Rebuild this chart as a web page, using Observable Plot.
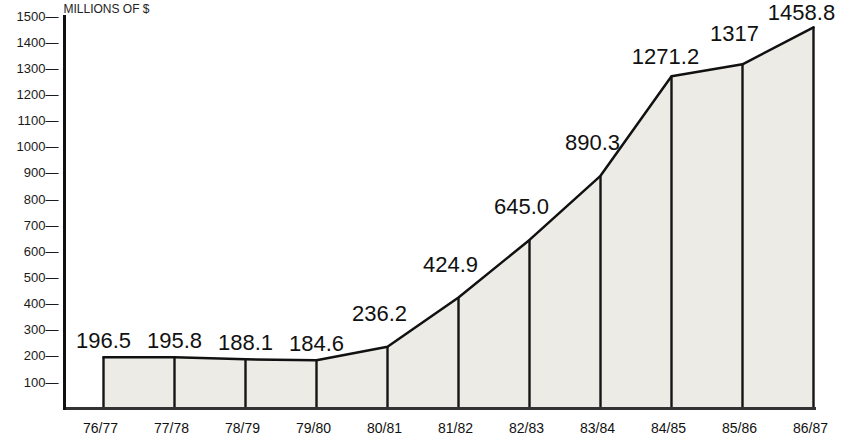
<!DOCTYPE html>
<html>
<head>
<meta charset="utf-8">
<script src="https://cdn.jsdelivr.net/npm/d3@7"></script>
<script src="https://cdn.jsdelivr.net/npm/@observablehq/plot@0.6"></script>
<style>
  html, body { margin: 0; padding: 0; background: #fff; overflow: hidden; }
  #chart svg { display: block; }
</style>
</head>
<body>
<div id="chart"></div>
<script>
const years = ["76/77", "77/78", "78/79", "79/80", "80/81", "81/82", "82/83", "83/84", "84/85", "85/86", "86/87"];
const values = [196.5, 195.8, 188.1, 184.6, 236.2, 424.9, 645.0, 890.3, 1271.2, 1317, 1458.8];
const valueLabels = ["196.5", "195.8", "188.1", "184.6", "236.2", "424.9", "645.0", "890.3", "1271.2", "1317", "1458.8"];
const yTicks = [100, 200, 300, 400, 500, 600, 700, 800, 900, 1000, 1100, 1200, 1300, 1400, 1500];
const yTitle = "MILLIONS OF $";

const data = years.map((year, i) => ({year, value: values[i], label: valueLabels[i], i}));

const font = "'Liberation Sans', Arial, Helvetica, sans-serif";
const labelStyle = {x: "year", y: "value", text: "label", fontSize: 22, fill: "#111", lineAnchor: "middle", textAnchor: "middle"};

const chart = Plot.plot({
  width: 852,
  height: 436,
  marginLeft: 64,
  marginRight: 36,
  marginTop: 16,
  marginBottom: 28,
  style: {fontFamily: font, background: "#fff", overflow: "visible"},
  x: {type: "point", domain: years, padding: 0, insetLeft: 36, label: null},
  y: {domain: [0, 1500], label: null},
  marks: [
    Plot.areaY(data, {x: "year", y: "value", fill: "#ecebe6"}),
    Plot.ruleX(data, {x: "year", y1: 0, y2: "value", stroke: "#151515", strokeWidth: 2.4}),
    Plot.lineY(data, {x: "year", y: "value", stroke: "#111", strokeWidth: 2.5}),
    Plot.ruleY([0], {stroke: "#333", strokeWidth: 3}),
    Plot.frame({anchor: "left", stroke: "#111", strokeWidth: 3}),
    Plot.axisY({ticks: yTicks, tickFormat: d => d + "—", tickSize: 0, tickPadding: 6, fontSize: 13, fill: "#1a1a1a"}),
    Plot.axisX({tickSize: 0, tickPadding: 15, dx: -3, fontSize: 14, fill: "#111"}),
    Plot.text(data.filter(d => d.i <= 3), {...labelStyle, dx: 0, dy: -16}),
    Plot.text(data.filter(d => d.i >= 4 && d.i <= 7), {...labelStyle, dx: -8, dy: -33}),
    Plot.text(data.filter(d => d.i === 8), {...labelStyle, dx: -6, dy: -19}),
    Plot.text(data.filter(d => d.i === 9), {...labelStyle, dx: -8, dy: -30}),
    Plot.text(data.filter(d => d.i === 10), {...labelStyle, dx: -12, dy: -14}),
    Plot.text([yTitle], {text: d => d, frameAnchor: "top-left", textAnchor: "start", lineAnchor: "bottom", dx: -1, dy: -4, fontSize: 12, fill: "#222"})
  ]
});
document.getElementById("chart").appendChild(chart);
</script>
</body>
</html>
